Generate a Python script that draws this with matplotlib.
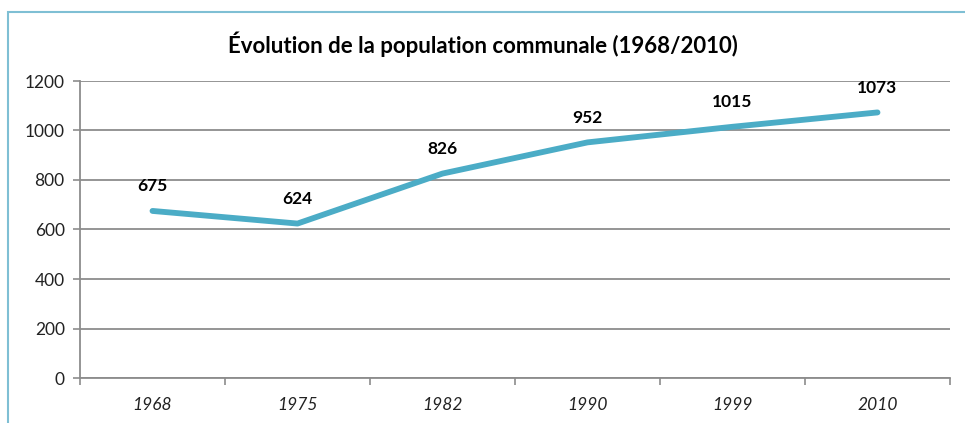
import numpy as np
import matplotlib
matplotlib.use("Agg")
from matplotlib import pyplot as plt
from matplotlib.patches import Rectangle

# data
years = ["1968", "1975", "1982", "1990", "1999", "2010"]
population = [675, 624, 826, 952, 1015, 1073]
yticks = [0, 200, 400, 600, 800, 1000, 1200]

plt.rcParams['font.family'] = ['Lato', 'DejaVu Sans']

fig = plt.figure(figsize=(9.65, 4.23), dpi=100)
ax = fig.add_axes([80 / 965, 1 - 378 / 423, 870 / 965, 297 / 423])

x = np.arange(len(years))
ax.plot(x, population, color='#4BACC6', linewidth=4.2, solid_capstyle='round',
        solid_joinstyle='round', zorder=3)
for xi, v in zip(x, population):
    ax.annotate(str(v), (xi, v), xytext=(0, 12), textcoords='offset points',
                ha='center', va='bottom', fontsize=12.5, fontweight='bold', color='black')

ax.set_xlim(-0.5, len(years) - 0.5)
ax.set_ylim(0, 1200)
ax.set_yticks(yticks)
ax.set_yticklabels([str(t) for t in yticks], fontsize=12.5, color='#222222')
ax.yaxis.grid(True, color='#8c8c8c', linewidth=1.3)
ax.set_axisbelow(True)

ax.set_xticks(x)
ax.set_xticklabels(years, fontsize=12.5, style='italic', color='#222222')
ax.set_xticks(np.arange(-0.5, len(years)), minor=True)
ax.tick_params(axis='x', which='major', length=0, pad=14)
ax.tick_params(axis='x', which='minor', length=5, color='#8c8c8c', width=1.2)
ax.tick_params(axis='y', length=5, color='#8c8c8c', width=1.2, pad=6)

for s in ['top', 'right']:
    ax.spines[s].set_visible(False)
for s in ['left', 'bottom']:
    ax.spines[s].set_color('#8c8c8c')
    ax.spines[s].set_linewidth(1.3)

fig.text(0.5, 1 - 44 / 423, "Évolution de la population communale (1968/2010)",
         ha='center', va='center', fontsize=16, fontweight='bold', color='black')

# outer frame (cropped at right and bottom)
frame = Rectangle((8 / 965, -0.05), 1.05, 1 - 12 / 423 + 0.05, transform=fig.transFigure,
                  fill=False, edgecolor='#7fbfd4', linewidth=1.5, clip_on=False)
fig.patches.append(frame)

fig.savefig("out.png", dpi=100)
